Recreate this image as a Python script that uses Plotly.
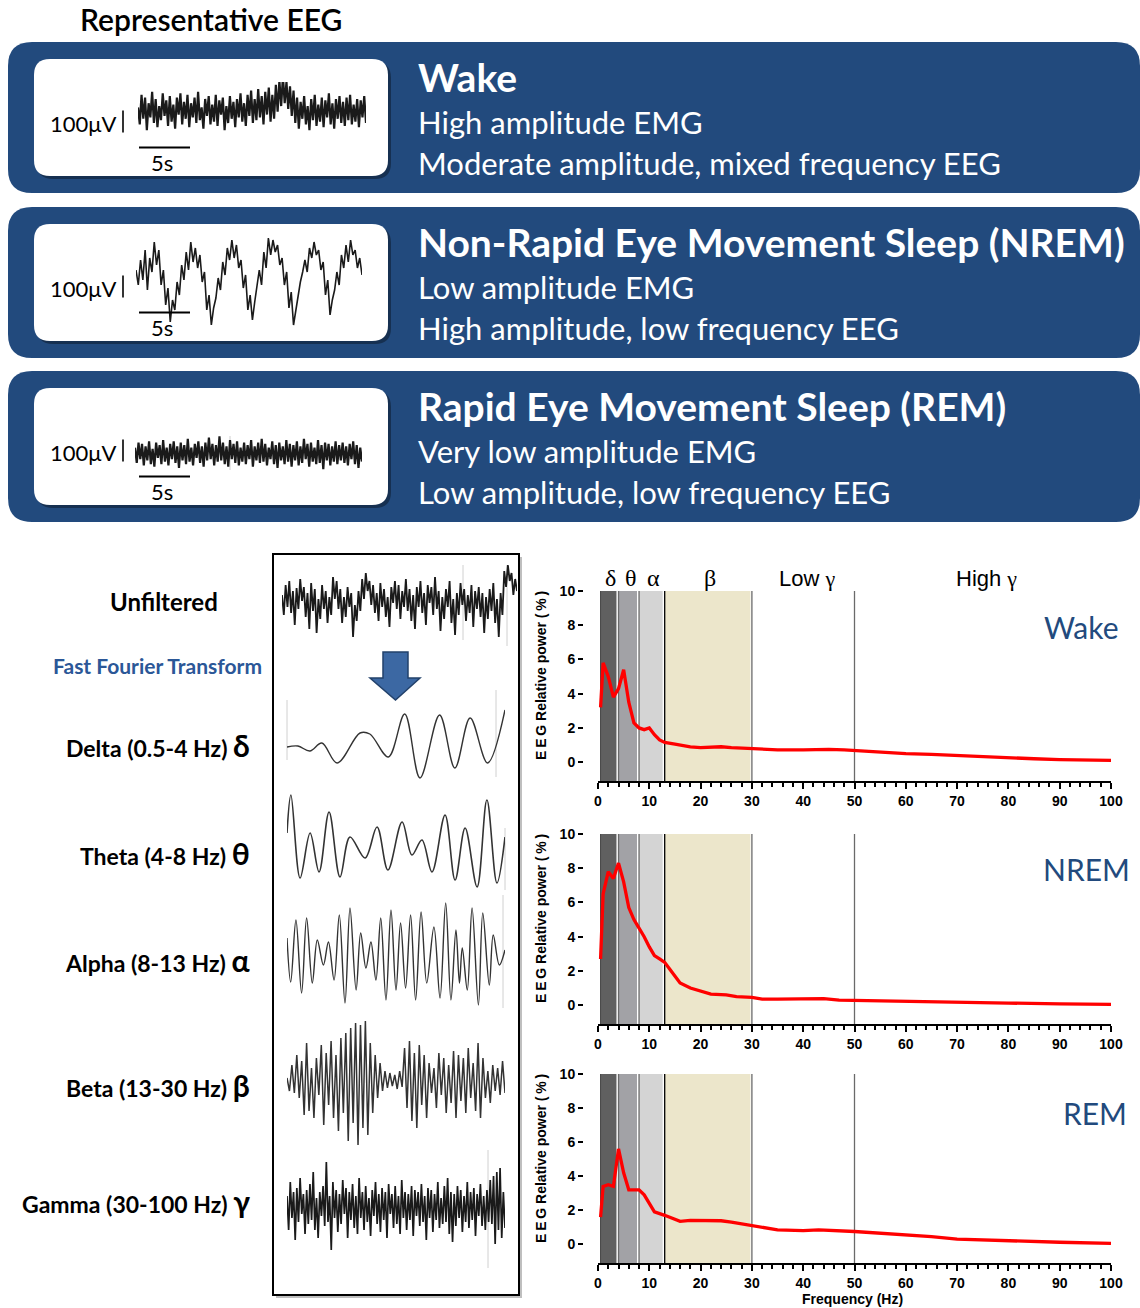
import plotly.graph_objects as go

W, H = 1140, 1308

# ---------------- Spectral data (relative power %, by frequency Hz) ----------------
wake_f = [0.5,0.7,1,2,3,4,5,6,7,8,9,10,11,12,13,15,18,20,22,24,26,30,35,40,45,48,50,55,60,65,70,75,80,85,90,95,100]
wake_p = [3.2,4.5,5.8,5.0,3.8,4.3,5.4,3.5,2.3,2.0,1.9,2.0,1.6,1.3,1.15,1.05,0.9,0.85,0.88,0.9,0.85,0.8,0.72,0.72,0.75,0.72,0.68,0.58,0.5,0.45,0.38,0.3,0.25,0.2,0.15,0.12,0.1]
nrem_f = [0.5,0.7,1,2,3,4,5,6,7,8,9,10,11,12,13,14,15,16,18,20,22,25,27,30,32,35,40,44,47,50,55,60,65,70,80,90,100]
nrem_p = [2.7,4.5,6.5,7.8,7.4,8.3,7.2,5.7,5.0,4.5,4.0,3.4,2.9,2.7,2.5,2.1,1.7,1.3,1.0,0.8,0.65,0.6,0.5,0.45,0.35,0.35,0.35,0.38,0.3,0.28,0.25,0.23,0.22,0.17,0.12,0.08,0.05]
rem_f = [0.5,1,2,3,4,5,6,7,8,9,10,11,13,15,16,18,20,24,26,30,35,40,43,50,55,60,65,70,75,80,85,90,100]
rem_p = [1.6,3.4,3.5,3.4,5.6,4.2,3.2,3.2,3.2,2.9,2.4,1.9,1.7,1.45,1.35,1.4,1.4,1.38,1.3,1.1,0.85,0.8,0.85,0.75,0.65,0.55,0.45,0.3,0.25,0.2,0.15,0.12,0.05]

band_names = ["δ", "θ", "α", "β"]
gamma_names = ["Low", "High"]
band_lo = [0.5, 4, 8, 13]
band_hi = [3.6, 7.6, 12.6, 29.7]
band_edges = [4, 8, 13, 30, 50]
y_ticks = [0, 2, 4, 6, 8, 10]
x_ticks = [0, 10, 20, 30, 40, 50, 60, 70, 80, 90, 100]

# ---------------- Representative EEG traces (amplitude, a.u.) ----------------
wake_eeg = [3,-9,12,-5,10,-13,6,-4,14,-8,9,-11,4,-6,13,-3,8,-10,11,-7,5,-12,10,-2,13,-9,7,-5,12,-11,
            6,-4,10,-8,14,-6,3,-12,9,-3,11,-9,5,-7,12,-10,8,-2,10,-13,4,-8,11,-5,7,-11,9,-4,13,-7,
            6,-10,12,-3,15,-8,9,-6,16,-4,11,-9,14,-2,17,-7,12,-5,19,0,22,4,25,6,21,2,18,-3,15,-8,
            10,-12,7,-5,11,-9,4,-13,9,-6,12,-10,5,-7,10,-11,8,-4,13,-9,6,-12,9,-5,11,-8,7,-10,10,-6,
            12,-9,5,-7,9,-11,8,-4,11,-8]
nrem_eeg = [10,-5,20,0,30,-10,22,8,38,15,30,-5,10,-25,-8,-42,-20,-30,-2,-15,15,0,28,10,38,18,32,12,25,-2,8,-30,-15,-45,-28,-18,2,-10,18,5,32,20,40,22,35,12,20,-8,5,-30,-15,-40,-22,-5,10,-5,28,12,42,25,40,28,35,15,22,-5,8,-28,-12,-45,-30,-18,-2,8,20,8,32,22,38,25,30,10,18,-15,0,-35,-20,-10,8,-5,25,12,35,18,40,25,30,12,22,5]
rem_eeg = [5,-7,9,-4,8,-9,6,-5,10,-8,4,-10,9,-3,7,-8,11,-6,5,-9,8,-4,10,-7,6,-11,9,-5,7,-8,
           12,-6,5,-9,8,-3,10,-7,6,-10,9,-5,13,-4,8,-9,7,-6,14,-5,9,-8,6,-10,11,-4,8,-7,10,-9,
           5,-6,9,-8,7,-4,11,-10,6,-5,9,-7,12,-6,8,-9,5,-4,10,-8,7,-11,9,-5,6,-8,11,-6,8,-10,
           7,-5,10,-9,6,-7,12,-4,8,-10,9,-6,5,-8,11,-7,7,-12,9,-5,8,-9,6,-6,10,-8,7,-5,9,-7,
           6,-9,8,-4,10,-8,7,-11,5,-6]

unfiltered = [8,-12,18,-4,22,-10,12,-22,15,-6,24,2,16,-14,10,-26,20,-8,14,-30,4,-16,18,-6,12,-20,6,-12,26,4,
              22,-6,14,-20,6,-14,16,-4,10,-34,-2,-18,12,-8,24,4,30,12,22,-2,18,-10,10,-18,20,-4,14,-14,6,-24,
              16,0,22,-6,18,-16,12,-4,24,-8,14,-18,8,-26,16,-4,22,-10,10,-22,18,0,16,-12,26,-6,12,-28,6,-16,
              14,-4,22,-20,4,-32,10,-12,20,-2,14,-18,8,-10,18,-24,12,-6,16,-14,10,-30,6,-16,14,-8,20,-20,4,-34,
              10,-12,32,16,38,22,30,8,24,12]

delta_t = [0,5,10.5,16,23,33.5,38,46.5,54,61,70,77,84,92,100]
delta_v = [-2,-1,-6,2,-18,12,11,-12,31,-33,30,-23,27,-18,35]

theta_t = [0,1.8,6,10.6,14.7,19.3,24.3,28.9,35.8,41.3,46.3,52.8,57.3,61.9,66.5,72.5,77.1,81.7,87.2,91.7,96.3,100]
theta_v = [5,43,-40,5,-34,26,-39,1,-20,11,-32,16,-17,-2,-34,23,-42,10,-49,38,-45,1]

alpha_t = [0,1.7,4.1,6.7,9.0,11.6,13.9,16.7,19.0,21.6,24.0,26.6,28.9,31.7,33.8,36.2,38.5,40.8,43.0,45.4,47.7,50.0,52.1,54.4,56.7,59.0,61.5,64.1,67.4,70.2,72.8,75.2,77.5,79.1,80.4,82.7,84.9,87.8,89.8,92.8,94.6,97.4,100]
alpha_v = [19,-25,37,-36,39,-26,17,-8,15,-23,42,-46,49,-33,24,-11,15,-23,39,-43,47,-33,34,-31,42,-43,45,-26,30,-41,54,-43,27,-26,9,-33,49,-48,44,-28,22,-8,7]

beta = [5,-8,18,-10,28,-15,22,-32,40,-28,15,-35,25,-12,38,-42,30,-22,42,-35,28,-48,45,-30,50,-58,55,-40,60,-62,58,-45,62,-52,40,-30,28,-15,20,-8,12,-5,10,-3,8,-6,12,-4,35,-25,42,-38,30,-45,38,-22,28,-35,20,-10,15,-25,30,-12,25,-30,18,-20,32,-35,28,-18,25,-30,35,-15,20,-28,40,-35,25,-15,12,-20,18,-8,15,-12,22,-10]
gamma = [12,-22,26,-10,16,-32,20,-14,30,-6,14,-26,18,-16,24,-12,36,-22,10,-30,16,-8,22,-18,46,-14,12,-42,26,-10,
         18,-24,14,-16,28,-6,20,-30,16,-12,24,-20,12,-26,30,-10,16,-22,22,-14,10,-28,18,-8,26,-16,14,-24,20,-12,
         16,-30,24,-6,14,-20,22,-16,12,-26,28,-10,16,-22,14,-12,22,-28,18,-8,16,-18,24,-14,12,-32,20,-10,18,-24,
         14,-12,26,-20,10,-16,22,-14,30,-26,16,-34,14,-18,22,-10,18,-24,12,-14,26,-20,16,-12,20,-28,14,-8,24,-18,
         12,-22,18,-14,28,-16,32,-36,36,-22,40,-30,16,-20]

# ---------------- Text ----------------
states = ["Wake", "Non-Rapid Eye Movement Sleep (NREM)", "Rapid Eye Movement Sleep (REM)"]
state_line1 = ["High amplitude EMG", "Low amplitude EMG", "Very low amplitude EMG"]
state_line2 = ["Moderate amplitude, mixed frequency EEG", "High amplitude, low frequency EEG", "Low amplitude, low frequency EEG"]
spec_labels = ["Wake", "NREM", "REM"]
filter_labels = ["Delta (0.5-4 Hz)", "Theta (4-8 Hz)", "Alpha (8-13 Hz)", "Beta (13-30 Hz)", "Gamma (30-100 Hz)"]
filter_greek = ["δ", "θ", "α", "β", "γ"]

# ---------------- helpers ----------------
def X(px):
    return px / W

def Y(py):
    return 1 - py / H

BLUE = "#224A7D"
SANS = "Lato"
ARIAL = "Liberation Sans"
SERIF = "Liberation Serif"

shapes = []
annotations = []
layout_axes = {}

def rrect_path(x0, y0, x1, y1, r):
    def p(x, y):
        return f"{X(x):.5f},{Y(y):.5f}"
    return (f"M {p(x0+r,y0)} L {p(x1-r,y0)} Q {p(x1,y0)} {p(x1,y0+r)} "
            f"L {p(x1,y1-r)} Q {p(x1,y1)} {p(x1-r,y1)} L {p(x0+r,y1)} "
            f"Q {p(x0,y1)} {p(x0,y1-r)} L {p(x0,y0+r)} Q {p(x0,y0)} {p(x0+r,y0)} Z")

def add_rrect(x0, y0, x1, y1, r, fill, line=None, lw=0):
    shapes.append(dict(type="path", xref="paper", yref="paper", path=rrect_path(x0, y0, x1, y1, r),
                       fillcolor=fill, line=dict(color=line or fill, width=lw), layer="below"))

def add_line(x0, y0, x1, y1, color="black", width=2, layer="above"):
    shapes.append(dict(type="line", xref="paper", yref="paper", x0=X(x0), y0=Y(y0), x1=X(x1), y1=Y(y1),
                       line=dict(color=color, width=width), layer=layer))

def ann(text, x, y, size, color="black", xanchor="left", family=SANS, weight="normal", textangle=0):
    annotations.append(dict(text=text, x=X(x), y=Y(y), xref="paper", yref="paper", showarrow=False,
                            xanchor=xanchor, yanchor="middle", textangle=textangle,
                            font=dict(size=size, color=color, family=family, weight=weight)))

fig = go.Figure()

def axname(i, kind):
    return f"{kind}axis" if i == 1 else f"{kind}axis{i}"

def ref(i, kind):
    return kind if i == 1 else f"{kind}{i}"

# ---------------- Header ----------------
ann("Representative EEG", 78, 19, 30, family=SANS, weight=600)

panel_y = [(42, 193), (207, 358), (371, 522)]
trace_boxes = [((138, 366), (82, 140), (-20, 21)),
               ((136, 362), (230, 330), (-50, 50)),
               ((135, 362), (430, 478), (-19, 19))]
top_traces = [wake_eeg, nrem_eeg, rem_eeg]
top_widths = [2.2, 1.6, 2.2]

for k, (py0, py1) in enumerate(panel_y):
    add_rrect(8, py0, 1140, py1, 24, BLUE)
    wy0, wy1 = py0 + 17, py1 - 17
    add_rrect(37, wy0 + 3, 391, wy1 + 3, 16, "rgba(0,0,0,0.35)")
    add_rrect(34, wy0, 388, wy1, 16, "white")
    mid = (wy0 + wy1) / 2
    ann("100μV", 48, mid + 6, 22)
    add_line(123, mid - 7, 123, mid + 15, width=1.6)
    add_line(139, mid + 30, 190, mid + 30, width=2)
    ann("5s", 162, mid + 45, 22, xanchor="center")
    ann("<b>" + states[k] + "</b>", 416, py0 + 35, 39, color="white")
    ann(state_line1[k], 416, py0 + 80, 31, color="white")
    ann(state_line2[k], 416, py0 + 121, 31, color="white")

# faint recording artefact lines seen in the original traces
for (ax0, ay0, ay1) in [(230, 436, 470), (463, 565, 640), (507, 565, 646), (496, 690, 777),
                        (287, 700, 760), (505, 828, 890), (503, 895, 1008), (488, 1150, 1268)]:
    add_line(ax0, ay0, ax0, ay1, color="#d0d0d0", width=1, layer="below")

# ---------------- axes for traces ----------------
idx = 4
def trace_axis(i, xpx, ypx, xr, yr):
    layout_axes[axname(i, "x")] = dict(domain=[X(xpx[0]), X(xpx[1])], range=xr, visible=False,
                                        anchor=ref(i, "y"), fixedrange=True, automargin=False)
    layout_axes[axname(i, "y")] = dict(domain=[Y(ypx[1]), Y(ypx[0])], range=yr, visible=False,
                                        anchor=ref(i, "x"), fixedrange=True, automargin=False)

for k in range(3):
    xpx, ypx, yr = trace_boxes[k]
    vals = top_traces[k]
    trace_axis(idx, xpx, ypx, [0, len(vals) - 1], list(yr))
    fig.add_trace(go.Scatter(x=list(range(len(vals))), y=vals, mode="lines",
                             line=dict(color="#1a1a1a", width=top_widths[k]),
                             xaxis=ref(idx, "x"), yaxis=ref(idx, "y"), hoverinfo="skip"))
    idx += 1

# ---------------- Filter box ----------------
shapes.insert(0, dict(type="rect", xref="paper", yref="paper", x0=X(273), y0=Y(1295), x1=X(519), y1=Y(554),
                      fillcolor="white", line=dict(color="black", width=2), layer="below"))
shapes.insert(0, dict(type="rect", xref="paper", yref="paper", x0=X(276), y0=Y(1298), x1=X(522), y1=Y(557),
                      fillcolor="rgba(0,0,0,0.25)", line=dict(width=0), layer="below"))

arrow = [(383, 652), (408, 652), (408, 678), (420, 678), (395.5, 700), (370, 678), (383, 678)]
path = "M " + " L ".join(f"{X(a):.5f},{Y(b):.5f}" for a, b in arrow) + " Z"
shapes.append(dict(type="path", xref="paper", yref="paper", path=path, fillcolor="#3C68A3",
                   line=dict(color="#22416B", width=1.5), layer="above"))

box_traces = [
    ((282, 517), (562, 645), None, unfiltered, (-42, 41), "linear", "#1a1a1a", 1.8),
    ((287, 505), (700, 780), delta_t, delta_v, (-35, 45), "spline", "#333333", 1.4),
    ((287, 505), (790, 890), theta_t, theta_v, (-52, 48), "spline", "#333333", 1.6),
    ((287, 505), (895, 1010), alpha_t, alpha_v, (-53, 62), "spline", "#333333", 1.4),
    ((287, 505), (1015, 1150), None, beta, (-67, 68), "linear", "#333333", 1.5),
    ((287, 505), (1145, 1265), None, gamma, (-57, 63), "linear", "#1a1a1a", 1.7),
]
for xpx, ypx, t, v, yr, shape, col, lw in box_traces:
    if t is None:
        t = list(range(len(v)))
    trace_axis(idx, xpx, ypx, [min(t), max(t)], list(yr))
    fig.add_trace(go.Scatter(x=t, y=v, mode="lines", line=dict(color=col, width=lw, shape=shape, smoothing=1.0),
                             xaxis=ref(idx, "x"), yaxis=ref(idx, "y"), hoverinfo="skip"))
    idx += 1

ann("<b>Unfiltered</b>", 164, 601, 24, xanchor="center")
ann("<b>Fast Fourier Transform</b>", 158, 666, 21, color="#2B5797", xanchor="center", weight=600)
label_y = [745, 853, 960, 1085, 1201]
for lab, g, yy in zip(filter_labels, filter_greek, label_y):
    ann(f"<b>{lab} </b><span style='font-size:30px'><b>{g}</b></span>", 252, yy, 23, xanchor="right")

# ---------------- Spectral plots ----------------
spec = [(wake_f, wake_p, 591, 781), (nrem_f, nrem_p, 834, 1024), (rem_f, rem_p, 1074, 1263)]
spec_label_pos = [(1081, 627), (1086, 869), (1095, 1113)]
band_colors = ["#606060", "#a2a2a6", "#d4d4d4", "#ece6cb"]
TS = "\u2009"
for k, (f, p, ytop, ybot) in enumerate(spec):
    i = k + 1
    layout_axes[axname(i, "x")] = dict(
        domain=[X(598), X(1111)], range=[0, 100], anchor=ref(i, "y"), automargin=False,
        showline=True, linewidth=2, linecolor="black", showgrid=False, zeroline=False,
        ticks="outside", ticklen=6, tickwidth=2, tickcolor="black", tickvals=x_ticks,
        tickfont=dict(family=ARIAL, size=14, color="black", weight="bold"),
        minor=dict(tickvals=[v for v in range(0, 101, 2) if v % 10], ticks="outside", ticklen=4, tickwidth=1.5,
                   tickcolor="black", showgrid=False),
        fixedrange=True)
    layout_axes[axname(i, "y")] = dict(
        domain=[Y(ybot), Y(ytop)], range=[-1.1, 10], anchor="free", position=X(583), automargin=False,
        showline=False, showgrid=False, zeroline=False, ticks="outside", ticklen=5, tickwidth=2,
        tickcolor="black", tickvals=y_ticks,
        tickfont=dict(family=ARIAL, size=14, color="black", weight="bold"), fixedrange=True)
    for lo, hi, c in zip(band_lo, band_hi, band_colors):
        shapes.append(dict(type="rect", xref=ref(i, "x"), yref=ref(i, "y") + " domain", x0=lo, x1=hi, y0=0, y1=1,
                           fillcolor=c, line=dict(width=0), layer="below"))
    for e in band_edges:
        shapes.append(dict(type="line", xref=ref(i, "x"), yref=ref(i, "y") + " domain", x0=e, x1=e, y0=0, y1=1,
                           line=dict(color="black" if e == 13 else "#6a6a6a", width=1.3), layer="below"))
    shapes.append(dict(type="line", xref=ref(i, "x"), yref=ref(i, "y") + " domain", x0=0.5, x1=0.5, y0=0, y1=1,
                       line=dict(color="#444444", width=1), layer="below"))
    fig.add_trace(go.Scatter(x=f, y=p, mode="lines", line=dict(color="#ff0000", width=3.3),
                             xaxis=ref(i, "x"), yaxis=ref(i, "y"), hoverinfo="skip"))
    ann(f"<b>E{TS}E{TS}G Relative power ({TS}%{TS})</b>", 541, ytop + 85, 14, family=ARIAL, textangle=-90,
        xanchor="center")
    lx, ly = spec_label_pos[k]
    ann(spec_labels[k], lx, ly, 30, color="#224A7D", xanchor="center")

for name, xc in zip(band_names, [610, 631, 653, 710]):
    ann(name, xc, 578, 24, family=SERIF, xanchor="center")
for name, xc in zip(gamma_names, [807, 986]):
    ann(f"{name} <span style='font-family:{SERIF}'>γ</span>", xc, 578, 22, family=ARIAL, xanchor="center")

ann("<b>Frequency (Hz)</b>", 852, 1299, 14, family=ARIAL, xanchor="center")

fig.update_layout(template="none", width=W, height=H, margin=dict(l=0, r=0, t=0, b=0, pad=0), autosize=False,
                  paper_bgcolor="white", plot_bgcolor="rgba(0,0,0,0)", showlegend=False,
                  shapes=shapes, annotations=annotations, **layout_axes)

fig.write_html("out.html", config={"displayModeBar": False},
               post_script="document.body.style.margin='0px';document.body.style.overflow='hidden';")
